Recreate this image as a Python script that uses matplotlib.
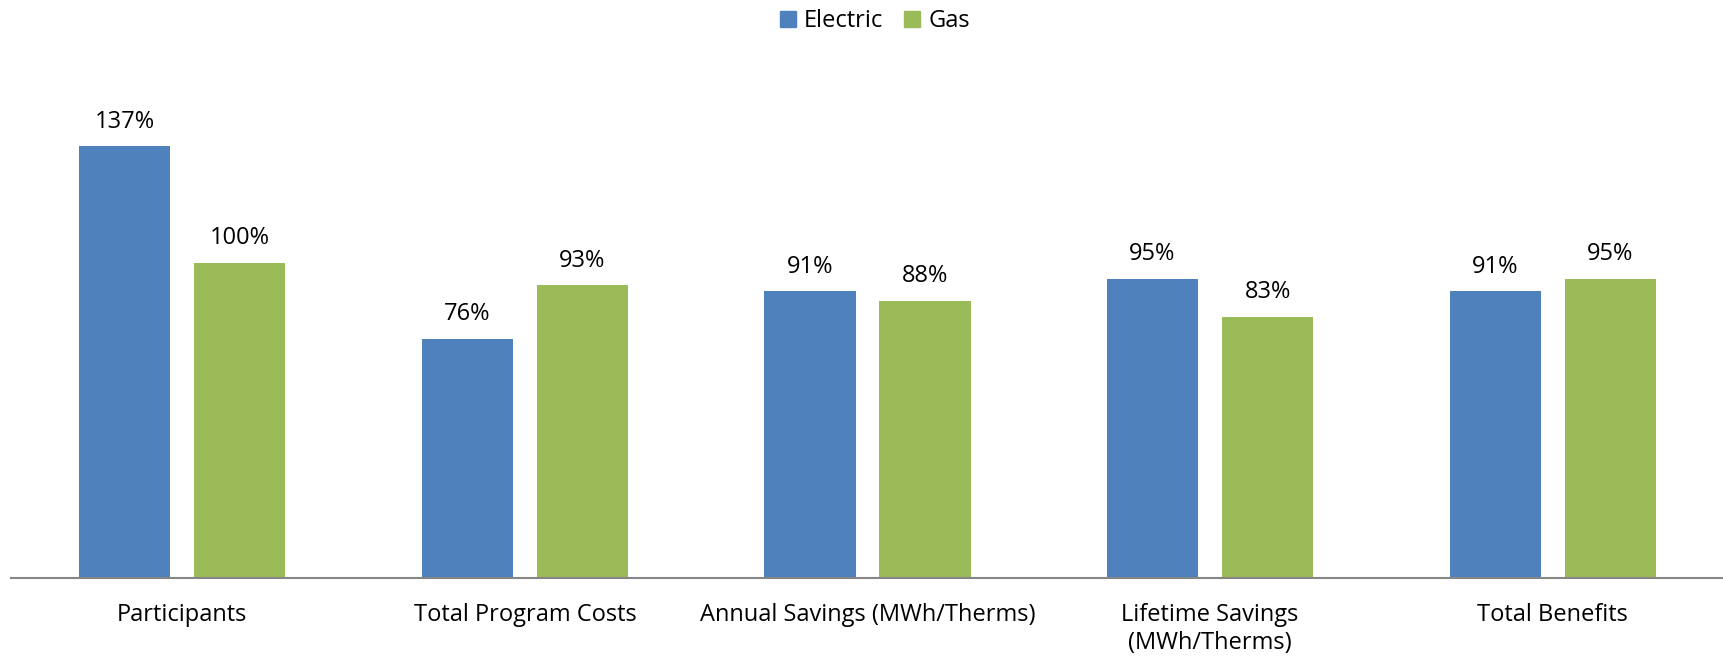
import matplotlib
matplotlib.use("Agg")
import matplotlib.pyplot as plt
import numpy as np
from matplotlib.patches import Patch

categories = ["Participants", "Total Program Costs", "Annual Savings (MWh/Therms)",
              "Lifetime Savings\n(MWh/Therms)", "Total Benefits"]
electric = [137, 76, 91, 95, 91]
gas = [100, 93, 88, 83, 95]
series_names = ["Electric", "Gas"]

plt.rcParams['font.family'] = ['Open Sans', 'DejaVu Sans']

W, H = 1724, 660
fig = plt.figure(figsize=(W/100, H/100), dpi=100)
ax = fig.add_axes([11/W, (H-578)/H, 1 - 11/W, (578-74)/H])

x = np.arange(len(categories))
bw = 0.266
off = 0.168
c_el = "#4F81BD"
c_gas = "#9BBB59"
b1 = ax.bar(x - off, electric, bw, color=c_el)
b2 = ax.bar(x + off, gas, bw, color=c_gas)

for bars, vals in ((b1, electric), (b2, gas)):
    for b, v in zip(bars, vals):
        ax.annotate(f"{v}%", (b.get_x() + b.get_width()/2, v), xytext=(0, 9),
                    textcoords="offset points", ha="center", va="bottom", fontsize=17,
                    color="black")

ax.set_xlim(-0.5, len(categories) - 0.5)
ax.set_ylim(0, 160)
ax.set_yticks([])
ax.set_xticks(x)
ax.set_xticklabels(categories, fontsize=17, linespacing=1.2)
ax.tick_params(axis='x', length=0, pad=18)
for s in ("top", "right", "left"):
    ax.spines[s].set_visible(False)
ax.spines["bottom"].set_color("#868686")
ax.spines["bottom"].set_linewidth(1.5)

handles = [Patch(color=c_el, label=series_names[0]), Patch(color=c_gas, label=series_names[1])]
fig.legend(handles=handles, loc="center", bbox_to_anchor=(875/W, 1 - 21/H), ncol=2,
           frameon=False, fontsize=17, handlelength=0.65, handleheight=0.65,
           handletextpad=0.35, columnspacing=0.9)

fig.savefig("out.png", dpi=100)
